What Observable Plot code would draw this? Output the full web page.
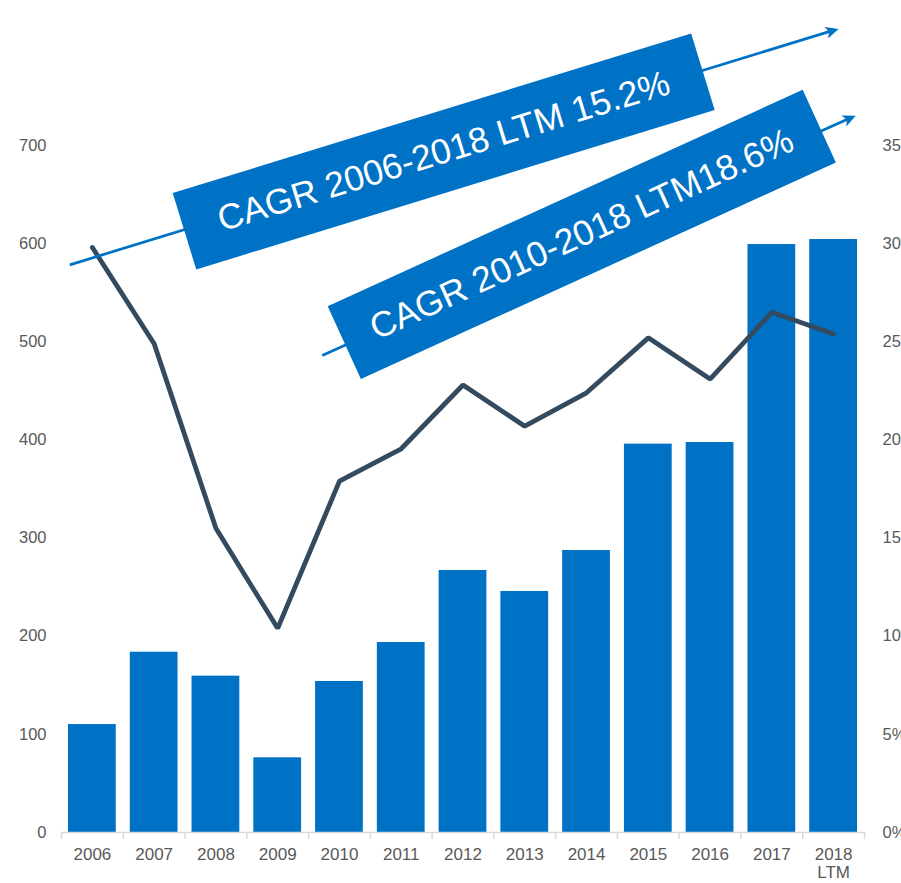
<!DOCTYPE html>
<html>
<head>
<meta charset="utf-8">
<script src="https://cdn.jsdelivr.net/npm/d3@7"></script>
<script src="https://cdn.jsdelivr.net/npm/@observablehq/plot@0.6"></script>
<style>
  html, body { margin: 0; padding: 0; background: #fff; overflow: hidden; }
  #chart { width: 901px; height: 883px; overflow: hidden; }
</style>
</head>
<body>
<div id="chart"></div>
<script>
// ---- data ----
const years = ["2006", "2007", "2008", "2009", "2010", "2011", "2012", "2013", "2014", "2015", "2016", "2017", "2018\nLTM"];
const revenue = [110, 183.7, 159.3, 76.1, 153.9, 193.6, 267, 245.6, 287.3, 395.7, 397.4, 599.1, 604.2];
const marginPct = [29.8, 24.9, 15.5, 10.4, 17.9, 19.55, 22.8, 20.7, 22.4, 25.2, 23.1, 26.5, 25.4];
const leftTicks = [0, 100, 200, 300, 400, 500, 600, 700];
const rightTickLabels = ["0%", "5%", "10%", "15%", "20%", "25%", "30%", "35%"];
const cagrLabels = ["CAGR 2006-2018 LTM 15.2%", "CAGR 2010-2018 LTM18.6%"];

// right axis: 35% corresponds to 700 on the left axis
const pctToLeft = 700 / 35;

// ---- annotation layout (in data units: x = category index, y = left-axis value) ----
const arrowStart = [[-0.366, 578.4], [3.7205, 486.0]];
const arrowHead  = [[11.966, 816.8], [12.250, 727.6]];
const arrowAngle = [-17.07, -24.23];
const boxStart   = [[1.491, 612.6], [4.078, 499.2]];
const boxEnd     = [[9.884, 775.2], [11.768, 719.7]];
const labelAt    = [[5.687, 693.9], [7.923, 609.4]];
const labelAngle = [-17.1, -24.5];

const rows = years.map((y, i) => ({i, year: y, revenue: revenue[i], pct: marginPct[i]}));
const ann = cagrLabels.map((t, k) => ({
  text: t,
  ax1: arrowStart[k][0], ay1: arrowStart[k][1],
  ax2: arrowHead[k][0], ay2: arrowHead[k][1], aRot: arrowAngle[k],
  bx1: boxStart[k][0], by1: boxStart[k][1],
  bx2: boxEnd[k][0], by2: boxEnd[k][1],
  tx: labelAt[k][0], ty: labelAt[k][1], tRot: labelAngle[k]
}));

const blue = "#0072C6";
const dark = "#344A5E";
const gray = "#595959";
const axisGray = "#D9D9D9";

const chart = Plot.plot({
  width: 901,
  height: 883,
  marginTop: 145,
  marginBottom: 51,
  marginLeft: 61,
  marginRight: 37,
  style: {fontFamily: "'Liberation Sans', Arial, sans-serif", background: "#fff", overflow: "visible"},
  x: {type: "linear", domain: [-0.5, 12.5], axis: null},
  y: {domain: [0, 700], axis: null},
  marks: [
    // bars
    Plot.rectY(rows, {x1: d => d.i - 0.5, x2: d => d.i + 0.5, y: "revenue", fill: blue, insetLeft: 7, insetRight: 7}),
    // x axis line and boundary ticks
    Plot.ruleY([0], {stroke: axisGray, strokeWidth: 1.5}),
    Plot.axisX({ticks: d3.range(-0.5, 13, 1), tickFormat: () => "", tickSize: 7, stroke: axisGray, strokeWidth: 1.5}),
    // x labels
    Plot.axisX({ticks: d3.range(0, 13), tickFormat: i => years[i], tickSize: 0, tickPadding: 14, fontSize: 17, fill: gray, lineHeight: 1.1}),
    // left axis
    Plot.axisY({anchor: "left", ticks: leftTicks, tickFormat: d => String(d), tickSize: 0, tickPadding: 15, fontSize: 16.5, fill: gray, label: null}),
    // right axis
    Plot.axisY({anchor: "right", ticks: leftTicks, tickFormat: d => rightTickLabels[leftTicks.indexOf(d)], tickSize: 0, tickPadding: 18, textAnchor: "start", fontSize: 16.5, fill: gray, label: null}),
    // margin line
    Plot.line(rows, {x: "i", y: d => d.pct * pctToLeft, stroke: dark, strokeWidth: 4.8, strokeLinejoin: "miter", strokeLinecap: "round"}),
    // arrows (shaft + head)
    Plot.link(ann, {x1: "ax1", y1: "ay1", x2: "ax2", y2: "ay2", stroke: blue, strokeWidth: 2.75}),
    Plot.text(ann, {x: "ax2", y: "ay2", text: () => "\u27A4", rotate: "aRot", fill: blue, fontSize: 19, fontFamily: "DejaVu Sans", textAnchor: "middle", lineAnchor: "middle"}),
    // rotated boxes
    Plot.link(ann, {x1: "bx1", y1: "by1", x2: "bx2", y2: "by2", stroke: blue, strokeWidth: 80, strokeLinecap: "butt"}),
    Plot.text(ann, {x: "tx", y: "ty", text: "text", rotate: "tRot", fill: "#fff", fontSize: 35.5, textAnchor: "middle", lineAnchor: "middle"})
  ]
});

document.getElementById("chart").appendChild(chart);
</script>
</body>
</html>
